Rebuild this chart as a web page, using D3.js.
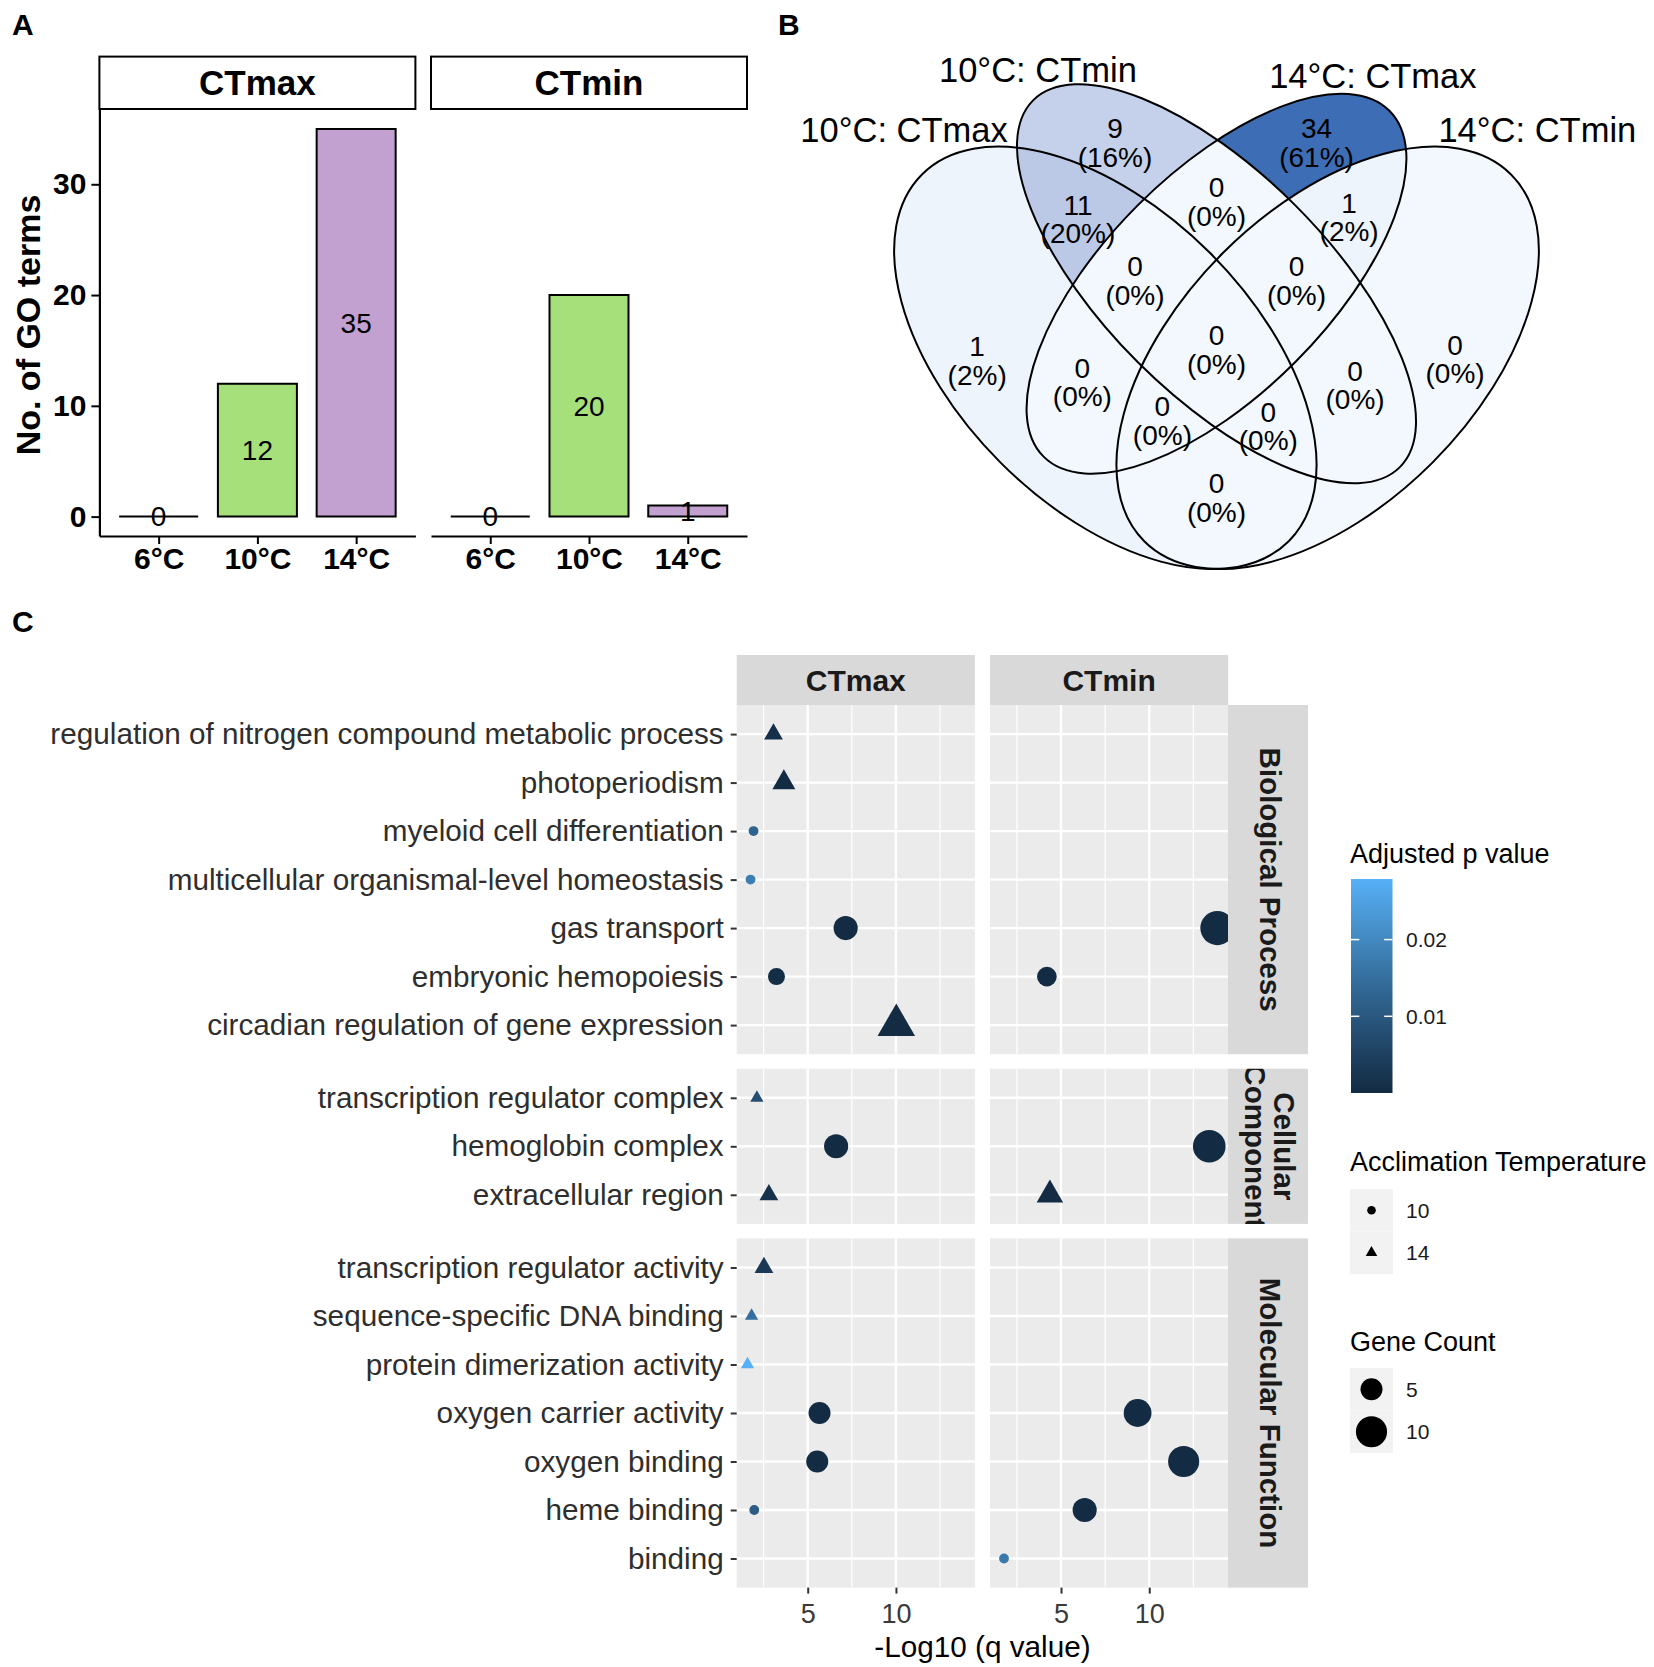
<!DOCTYPE html>
<html>
<head>
<meta charset="utf-8">
<script src="https://cdn.jsdelivr.net/npm/d3@7/dist/d3.min.js"></script>
<style>
  body { margin: 0; background: #ffffff; }
  svg { display: block; }
  text { font-family: "Liberation Sans", Arial, Helvetica, sans-serif; }
</style>
</head>
<body>
<svg id="chart" width="1654" height="1667"></svg>
<script>
// ===================== DATA =====================
// Panel A: number of GO terms
const barFacets = ["CTmax", "CTmin"];
const barTemps = ["6°C", "10°C", "14°C"];
const barCTmax = [0, 12, 35];
const barCTmin = [0, 20, 1];

// Panel B: Venn diagram
const vennSets = ["10°C: CTmax", "10°C: CTmin", "14°C: CTmax", "14°C: CTmin"];
const vennRegions = ["1000", "0100", "0010", "0001", "1100", "1010", "1001", "0110",
                     "0101", "0011", "1110", "1101", "1011", "0111", "1111"];
const vennCounts = [1, 9, 34, 0, 11, 0, 0, 0, 0, 1, 0, 0, 0, 0, 0];

// Panel C: GO enrichment dot plot
const goCategories = ["Biological Process", "Cellular Component", "Molecular Function"];
const bpTerms = ["regulation of nitrogen compound metabolic process", "photoperiodism",
  "myeloid cell differentiation", "multicellular organismal-level homeostasis",
  "gas transport", "embryonic hemopoiesis", "circadian regulation of gene expression"];
const ccTerms = ["transcription regulator complex", "hemoglobin complex", "extracellular region"];
const mfTerms = ["transcription regulator activity", "sequence-specific DNA binding",
  "protein dimerization activity", "oxygen carrier activity", "oxygen binding",
  "heme binding", "binding"];
const dotPanels = ["CTmax", "CTmin"];

const dotTerm = [
  "regulation of nitrogen compound metabolic process", "photoperiodism",
  "myeloid cell differentiation", "multicellular organismal-level homeostasis",
  "gas transport", "embryonic hemopoiesis", "circadian regulation of gene expression",
  "gas transport", "embryonic hemopoiesis",
  "transcription regulator complex", "hemoglobin complex", "extracellular region",
  "hemoglobin complex", "extracellular region",
  "transcription regulator activity", "sequence-specific DNA binding",
  "protein dimerization activity", "oxygen carrier activity", "oxygen binding", "heme binding",
  "oxygen carrier activity", "oxygen binding", "heme binding", "binding"];
const dotPanel = [
  "CTmax", "CTmax", "CTmax", "CTmax", "CTmax", "CTmax", "CTmax",
  "CTmin", "CTmin",
  "CTmax", "CTmax", "CTmax",
  "CTmin", "CTmin",
  "CTmax", "CTmax", "CTmax", "CTmax", "CTmax", "CTmax",
  "CTmin", "CTmin", "CTmin", "CTmin"];
const dotNegLog10Q = [
  3.06, 3.65, 1.93, 1.76, 7.15, 3.23, 10.02,
  13.86, 4.20,
  2.12, 6.61, 2.80,
  13.40, 4.37,
  2.52, 1.82, 1.59, 5.67, 5.54, 1.97,
  9.34, 11.95, 6.34, 1.77];
const dotPadj = [
  0.0009, 0.0002, 0.0125, 0.0180, 0.00001, 0.0006, 0.000001,
  0.000001, 0.00006,
  0.0080, 0.00002, 0.0016,
  0.000001, 0.00004,
  0.0032, 0.0150, 0.0279, 0.00001, 0.00001, 0.0110,
  0.000001, 0.000001, 0.000001, 0.0170];
const dotCount = [
  2, 3, 1, 1, 6, 3, 8,
  12, 4,
  1, 6, 2,
  11, 4,
  2, 1, 1, 5, 5, 1,
  8, 10, 6, 1];
const dotTemp = [
  14, 14, 10, 10, 10, 10, 14,
  10, 10,
  14, 10, 14,
  10, 14,
  14, 14, 14, 10, 10, 10,
  10, 10, 10, 10];

const legendTemps = [10, 14];
const legendCounts = [5, 10];
const legendPBreaks = [0.01, 0.02];

// ===================== STYLE / LAYOUT =====================
const svg = d3.select("#chart");
const defs = svg.append("defs");
const barFill = { "6°C": "#A6E07A", "10°C": "#A6E07A", "14°C": "#C2A1D0" };

function label(g, x, y, str, size, opt = {}) {
  return g.append("text")
    .attr("x", x).attr("y", y)
    .attr("dy", opt.dy || "0.35em")
    .attr("font-size", size)
    .attr("font-weight", opt.bold ? "bold" : null)
    .attr("text-anchor", opt.anchor || "start")
    .attr("fill", opt.fill || "#000")
    .text(str);
}

// panel letters
label(svg, 12, 24, "A", 30, { bold: true });
label(svg, 778, 24, "B", 30, { bold: true });
label(svg, 12, 621, "C", 30, { bold: true });

// ===================== PANEL A =====================
(function () {
  const gA = svg.append("g");
  const facetLeft = [99.4, 431];
  const facetW = 316;
  const stripTop = 56.6, plotTop = 109.5, plotBottom = 536;
  const vmax = d3.max(barCTmax.concat(barCTmin));
  const yA = d3.scaleLinear().domain([-0.05 * vmax, vmax * 1.05]).range([plotBottom, plotTop]);
  const series = [barCTmax, barCTmin];

  barFacets.forEach((f, fi) => {
    const x0 = facetLeft[fi];
    const xA = d3.scalePoint().domain(barTemps).range([x0, x0 + facetW]).padding(0.6);
    const bw = xA.step() * 0.8;

    gA.append("rect").attr("x", x0).attr("y", stripTop).attr("width", facetW)
      .attr("height", plotTop - stripTop - 0.5).attr("fill", "#fff")
      .attr("stroke", "#000").attr("stroke-width", 2);
    label(gA, x0 + facetW / 2, (stripTop + plotTop) / 2, f, 35, { bold: true, anchor: "middle" });

    const vals = series[fi];
    barTemps.forEach((t, i) => {
      const cx = xA(t), v = vals[i];
      const y1 = yA(v), y0 = yA(0);
      gA.append("path")
        .attr("d", `M${cx - bw / 2},${y0}V${y1}H${cx + bw / 2}V${y0}Z`)
        .attr("fill", barFill[t]).attr("stroke", "#000").attr("stroke-width", 2);
      label(gA, cx, yA(v / 2), String(v), 28, { anchor: "middle" });
    });

    const ax = gA.append("g").attr("transform", `translate(0,${plotBottom})`)
      .call(d3.axisBottom(xA).tickSize(8).tickSizeOuter(0).tickPadding(6));
    ax.select(".domain").attr("stroke", "#000").attr("stroke-width", 2.2);
    ax.selectAll(".tick line").attr("stroke", "#000").attr("stroke-width", 2);
    ax.selectAll(".tick text").attr("font-size", 30).attr("font-weight", "bold")
      .attr("fill", "#000").attr("font-family", null).attr("dy", "0.64em");

    if (fi === 0) {
      const ay = gA.append("g").attr("transform", `translate(${x0},0)`)
        .call(d3.axisLeft(yA).ticks(4).tickSize(8).tickSizeOuter(0).tickPadding(5));
      ay.select(".domain").attr("stroke", "#000").attr("stroke-width", 2.2);
      ay.selectAll(".tick line").attr("stroke", "#000").attr("stroke-width", 2);
      ay.selectAll(".tick text").attr("font-size", 30).attr("font-weight", "bold")
        .attr("fill", "#000").attr("font-family", null);
    }
  });
  gA.append("text").attr("transform", "translate(40,325) rotate(-90)")
    .attr("text-anchor", "middle").attr("font-size", 34).attr("font-weight", "bold")
    .text("No. of GO terms");
})();

// ===================== PANEL B (Venn) =====================
(function () {
  const gB = svg.append("g");
  const vx = d3.scaleLinear().domain([0, 1]).range([846, 1587]);
  const vy = d3.scaleLinear().domain([0, 1]).range([706.1, -34.9]);
  const k = vx(1) - vx(0);
  // ellipse shape: centre x, centre y, semi-major, semi-minor, rotation (deg)
  const shapes = [[0.35, 0.47, 0.35, 0.20, 135], [0.50, 0.57, 0.35, 0.15, 135],
                  [0.50, 0.57, 0.33, 0.15, 45], [0.65, 0.47, 0.35, 0.20, 45]];
  // label anchor point of every region (unit square), same order as vennRegions
  const regionLabelPos = [[0.177, 0.466], [0.363, 0.760], [0.635, 0.760], [0.822, 0.468],
    [0.313, 0.657], [0.319, 0.437], [0.500, 0.281], [0.500, 0.681],
    [0.687, 0.433], [0.679, 0.660], [0.390, 0.574], [0.570, 0.378],
    [0.427, 0.385], [0.608, 0.574], [0.500, 0.481]];
  const setLabelPos = [[0.0783, 0.778], [0.259, 0.858], [0.711, 0.850], [0.933, 0.778]];

  const ellAttr = (sel, s) => sel.attr("cx", vx(s[0])).attr("cy", vy(s[1]))
    .attr("rx", s[2] * k).attr("ry", s[3] * k)
    .attr("transform", `rotate(${-s[4]},${vx(s[0])},${vy(s[1])})`);
  shapes.forEach((s, i) => {
    ellAttr(defs.append("clipPath").attr("id", "vclip" + i).append("ellipse"), s);
  });
  const total = d3.sum(vennCounts);
  const fill = d3.scaleLinear().domain([0, d3.max(vennCounts)])
    .range(["#F2F8FE", "#3D6DB5"]).interpolate(d3.interpolateLab);

  vennRegions.forEach((r, ri) => {
    const m = defs.append("mask").attr("id", "vmask" + r);
    m.append("rect").attr("x", 0).attr("y", 0).attr("width", 1654).attr("height", 1667).attr("fill", "#fff");
    r.split("").forEach((b, i) => { if (b === "0") ellAttr(m.append("ellipse"), shapes[i]).attr("fill", "#000"); });
    let g = gB.append("g").attr("mask", `url(#vmask${r})`);
    r.split("").forEach((b, i) => { if (b === "1") g = g.append("g").attr("clip-path", `url(#vclip${i})`); });
    g.append("rect").attr("x", 780).attr("y", 0).attr("width", 874).attr("height", 640)
      .attr("fill", fill(vennCounts[ri]));
  });
  shapes.forEach(s => ellAttr(gB.append("ellipse"), s)
    .attr("fill", "none").attr("stroke", "#000").attr("stroke-width", 2));

  vennRegions.forEach((r, ri) => {
    const cx = vx(regionLabelPos[ri][0]), cy = vy(regionLabelPos[ri][1]);
    label(gB, cx, cy - 14.3, String(vennCounts[ri]), 28, { anchor: "middle" });
    label(gB, cx, cy + 14.3, "(" + Math.round(vennCounts[ri] / total * 100) + "%)", 28, { anchor: "middle" });
  });
  vennSets.forEach((s, i) => label(gB, vx(setLabelPos[i][0]), vy(setLabelPos[i][1]), s, 34.5, { anchor: "middle" }));
})();

// ===================== PANEL C =====================
(function () {
  const gC = svg.append("g");
  const panelLeft = { CTmax: 736.7, CTmin: 990 };
  const panelW = 238.2;
  const stripTop = 655, panelTop = 705, rowStep = 48.5, gap = 14.5;
  const rStripX = 1228, rStripW = 80;
  const termSets = [bpTerms, ccTerms, mfTerms];

  const xr = d3.extent(dotNegLog10Q);
  const xpad = (xr[1] - xr[0]) * 0.05;
  const xDom = [xr[0] - xpad, xr[1] + xpad];
  const xScales = {};
  dotPanels.forEach(p => xScales[p] = d3.scaleLinear().domain(xDom).range([panelLeft[p], panelLeft[p] + panelW]));

  const color = d3.scaleLinear().domain(d3.extent(dotPadj)).range(["#132B43", "#56B1F7"]).interpolate(d3.interpolateLab);
  const rSize = d3.scaleSqrt().domain([0, d3.max(dotCount)]).range([0, 17.05]);
  const TRC0 = 1.55512030155621416073, TRC1 = TRC0 * Math.sqrt(3) / 2, TRC2 = TRC0 / 2;
  const tri = R => `M0,${-TRC0 * R}L${TRC1 * R},${TRC2 * R}L${-TRC1 * R},${TRC2 * R}Z`;

  dotPanels.forEach(p => {
    gC.append("rect").attr("x", panelLeft[p]).attr("y", stripTop).attr("width", panelW)
      .attr("height", panelTop - stripTop).attr("fill", "#D9D9D9");
    label(gC, panelLeft[p] + panelW / 2, (stripTop + panelTop) / 2, p, 30, { bold: true, anchor: "middle", fill: "#1A1A1A" });
  });

  let top = panelTop;
  const rowLayouts = [];
  termSets.forEach((terms, gi) => {
    const h = (terms.length - 1 + 1.2) * rowStep;
    const yS = d3.scalePoint().domain(terms).range([top, top + h]).padding(0.6);
    rowLayouts.push({ top, h, yS });

    dotPanels.forEach(p => {
      const xS = xScales[p];
      const pg = gC.append("g");
      const cid = `pclip_${gi}_${p}`;
      defs.append("clipPath").attr("id", cid).append("rect")
        .attr("x", panelLeft[p]).attr("y", top).attr("width", panelW).attr("height", h);
      pg.append("rect").attr("x", panelLeft[p]).attr("y", top).attr("width", panelW).attr("height", h).attr("fill", "#EBEBEB");
      const major = xS.ticks(3);
      const half = (major[1] - major[0]) / 2;
      const minor = major.map(v => v - half).concat([major[major.length - 1] + half]);
      minor.filter(v => v > xDom[0] && v < xDom[1]).forEach(v =>
        pg.append("line").attr("x1", xS(v)).attr("x2", xS(v)).attr("y1", top).attr("y2", top + h)
          .attr("stroke", "#fff").attr("stroke-width", 1.2));
      major.forEach(v =>
        pg.append("line").attr("x1", xS(v)).attr("x2", xS(v)).attr("y1", top).attr("y2", top + h)
          .attr("stroke", "#fff").attr("stroke-width", 2.4));
      terms.forEach(t =>
        pg.append("line").attr("x1", panelLeft[p]).attr("x2", panelLeft[p] + panelW).attr("y1", yS(t)).attr("y2", yS(t))
          .attr("stroke", "#fff").attr("stroke-width", 2.4));

      const pts = pg.append("g").attr("clip-path", `url(#${cid})`);
      dotTerm.forEach((t, i) => {
        if (dotPanel[i] !== p || !terms.includes(t)) return;
        const cx = xS(dotNegLog10Q[i]), cy = yS(t), R = rSize(dotCount[i]);
        if (dotTemp[i] === 10) {
          pts.append("circle").attr("cx", cx).attr("cy", cy).attr("r", R).attr("fill", color(dotPadj[i]));
        } else {
          pts.append("path").attr("d", tri(R)).attr("transform", `translate(${cx},${cy})`).attr("fill", color(dotPadj[i]));
        }
      });
    });

    const ay = gC.append("g").attr("transform", `translate(${panelLeft.CTmax},0)`)
      .call(d3.axisLeft(yS).tickSize(6).tickPadding(7));
    ay.select(".domain").remove();
    ay.selectAll(".tick line").attr("stroke", "#333").attr("stroke-width", 2);
    ay.selectAll(".tick text").attr("font-size", 29.7).attr("fill", "#2E2E2E").attr("font-family", null);

    const sid = `sclip_${gi}`;
    defs.append("clipPath").attr("id", sid).append("rect")
      .attr("x", rStripX).attr("y", top).attr("width", rStripW).attr("height", h);
    gC.append("rect").attr("x", rStripX).attr("y", top).attr("width", rStripW).attr("height", h).attr("fill", "#D9D9D9");
    const words = goCategories[gi].split(" ");
    const lines = (h < 200) ? words : [goCategories[gi]];
    const sg = gC.append("g").attr("clip-path", `url(#${sid})`);
    const tt = sg.append("text")
      .attr("transform", `translate(${rStripX + rStripW / 2 + 2},${top + h / 2}) rotate(90)`)
      .attr("text-anchor", "middle").attr("font-size", 29.5).attr("font-weight", "bold").attr("fill", "#1A1A1A");
    lines.forEach((ln, li) => {
      tt.append("tspan").attr("x", 0)
        .attr("y", (li - (lines.length - 1) / 2) * 28.5)
        .attr("dy", "0.35em").text(ln);
    });

    top += h + gap;
  });

  const bottom = rowLayouts[2].top + rowLayouts[2].h;
  dotPanels.forEach(p => {
    const ax = gC.append("g").attr("transform", `translate(0,${bottom})`)
      .call(d3.axisBottom(xScales[p]).tickValues(xScales[p].ticks(3)).tickSize(6).tickPadding(6));
    ax.select(".domain").remove();
    ax.selectAll(".tick line").attr("stroke", "#333").attr("stroke-width", 2);
    ax.selectAll(".tick text").attr("font-size", 27).attr("fill", "#3A3A3A").attr("font-family", null).attr("dy", "0.85em");
  });
  label(gC, (panelLeft.CTmax + panelLeft.CTmin + panelW) / 2, 1647, "-Log10 (q value)", 29.7, { anchor: "middle" });

  // ---------- legends ----------
  const lg = gC.append("g");
  const lx = 1350;
  const tx = 1406;
  label(lg, lx, 853.5, "Adjusted p value", 27);
  const cbTop = 879, cbBot = 1093, cbW = 41.5;
  const pd = d3.extent(dotPadj);
  const grad = defs.append("linearGradient").attr("id", "pgrad").attr("x1", 0).attr("y1", 1).attr("x2", 0).attr("y2", 0);
  d3.range(0, 1.0001, 0.1).forEach(f => grad.append("stop").attr("offset", f)
    .attr("stop-color", color(pd[0] + f * (pd[1] - pd[0]))));
  lg.append("rect").attr("x", lx + 1).attr("y", cbTop).attr("width", cbW).attr("height", cbBot - cbTop).attr("fill", "url(#pgrad)");
  const cbScale = d3.scaleLinear().domain(pd).range([cbBot, cbTop]);
  legendPBreaks.forEach(b => {
    const y = cbScale(b);
    lg.append("line").attr("x1", lx + 1).attr("x2", lx + 1 + cbW / 5).attr("y1", y).attr("y2", y).attr("stroke", "#fff").attr("stroke-width", 1.5);
    lg.append("line").attr("x1", lx + 1 + cbW * 4 / 5).attr("x2", lx + 1 + cbW).attr("y1", y).attr("y2", y).attr("stroke", "#fff").attr("stroke-width", 1.5);
    label(lg, tx, y, String(b), 21, { fill: "#1A1A1A" });
  });

  label(lg, lx, 1162, "Acclimation Temperature", 27);
  const keyH = 42.5, keyW = 43;
  legendTemps.forEach((t, i) => {
    const y0 = 1189 + i * keyH;
    lg.append("rect").attr("x", lx).attr("y", y0).attr("width", keyW).attr("height", keyH).attr("fill", "#F2F2F2");
    const cx = lx + keyW / 2, cy = y0 + keyH / 2;
    if (t === 10) lg.append("circle").attr("cx", cx).attr("cy", cy).attr("r", 4.3).attr("fill", "#000");
    else lg.append("path").attr("d", tri(4.3)).attr("transform", `translate(${cx},${cy})`).attr("fill", "#000");
    label(lg, tx, cy, String(t), 21, { fill: "#1A1A1A" });
  });

  label(lg, lx, 1342, "Gene Count", 27);
  legendCounts.forEach((c, i) => {
    const y0 = 1368 + i * keyH;
    lg.append("rect").attr("x", lx).attr("y", y0).attr("width", keyW).attr("height", keyH).attr("fill", "#F2F2F2");
    const cx = lx + keyW / 2, cy = y0 + keyH / 2;
    lg.append("circle").attr("cx", cx).attr("cy", cy).attr("r", rSize(c)).attr("fill", "#000");
    label(lg, tx, cy, String(c), 21, { fill: "#1A1A1A" });
  });
})();
</script>
</body>
</html>
